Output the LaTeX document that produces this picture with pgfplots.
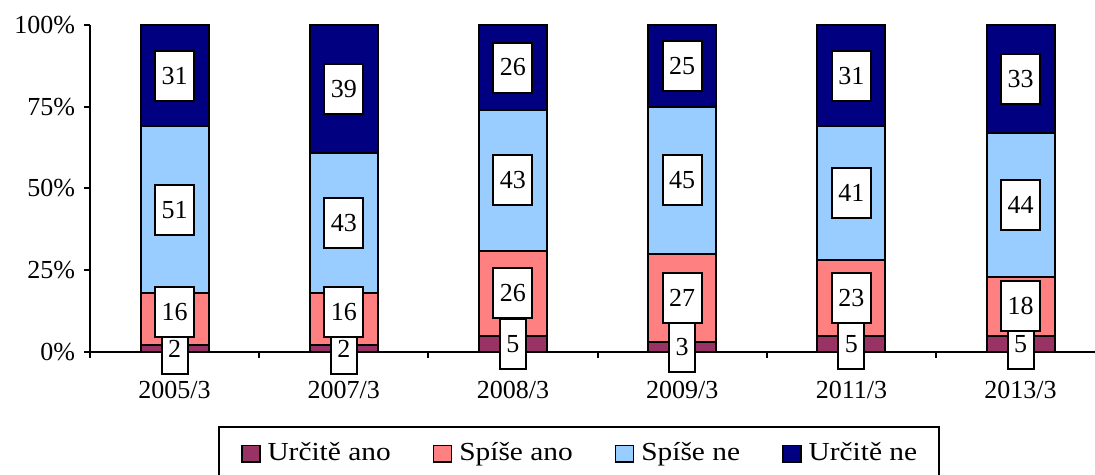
\documentclass[border=0pt]{standalone}
\usepackage{pgfplots}
\pgfplotsset{compat=1.18}
\usepackage{fontspec}
\setmainfont{Liberation Serif}
\definecolor{urcitano}{HTML}{993366}
\definecolor{spiseano}{HTML}{FF8080}
\definecolor{spisene}{HTML}{99CCFF}
\definecolor{urcitne}{HTML}{000080}
\newcommand{\lgd}[1]{\scalebox{1.13}[1]{#1}}
\begin{document}
\fontsize{13}{15}\selectfont
\begin{tikzpicture}
\useasboundingbox (0,0) rectangle (547.5pt,237.5pt);
\begin{axis}[
  at={(45pt,61.5pt)}, anchor=south west,
  scale only axis, width=502.5pt, height=163.5pt,
  ybar stacked, reverse stacked plots=false, bar width=34pt,
  xmin=-0.5, xmax=5.44, ymin=0, ymax=100,
  axis x line=bottom, axis y line=left,
  axis line style={-, line width=1pt},
  ytick={0,25,50,75,100},
  yticklabel={\pgfmathprintnumber{\tick}\%},
  /pgf/number format/assume math mode=true,
  xtick={-0.5,0.5,1.5,2.5,3.5,4.5},
  xticklabels={},
  extra x ticks={0,1,2,3,4,5},
  extra x tick labels={2005/3,2007/3,2008/3,2009/3,2011/3,2013/3},
  extra x tick style={major tick length=0pt, tick label style={yshift=-10pt}},
  tick align=outside, major tick length=3pt,
  tick style={line width=1pt, black},
  every axis plot/.append style={draw=black, line width=1pt},
  nodes near coords={\pgfmathprintnumber{\rawy}},
  visualization depends on=rawy \as \rawy,
  every node near coord/.append style={anchor=center, fill=white, draw=black,
    line width=1pt, minimum height=25pt, inner xsep=3.25pt, inner ysep=0pt,
    text=black},
  legend columns=4,
  legend style={at={(0.1274,-0.226)}, anchor=north west, draw=black,
    line width=0.9pt, inner xsep=11pt, inner ysep=8pt,
    nodes={inner sep=0pt},
    /tikz/every odd column/.append style={column sep=3.5pt},
    /tikz/every even column/.append style={column sep=21pt}},
  legend image code/.code={\draw[#1, draw=black, line width=0.8pt] (0pt,-4.2pt) rectangle (9pt,4.2pt);},
]
\addplot[fill=urcitano] coordinates {(0,2) (1,2) (2,5) (3,3) (4,5) (5,5)};
\addlegendentry{\lgd{Určitě ano}}
% dy: small upward nudge of the label where it would hide the one below
\addplot[fill=spiseano, visualization depends on=value \thisrow{dy} \as \dy,
  every node near coord/.append style={yshift=\dy pt}] table {
x y dy
0 16 3.5
1 16 3.5
2 26 0
3 27 0
4 23 0
5 18 0
};
\addlegendentry{\lgd{Spíše ano}}
\addplot[fill=spisene] coordinates {(0,51) (1,43) (2,43) (3,45) (4,41) (5,44)};
\addlegendentry{\lgd{Spíše ne}}
\addplot[fill=urcitne] coordinates {(0,31) (1,39) (2,26) (3,25) (4,31) (5,33)};
\addlegendentry{\lgd{Určitě ne}}
\end{axis}
\end{tikzpicture}
\end{document}
